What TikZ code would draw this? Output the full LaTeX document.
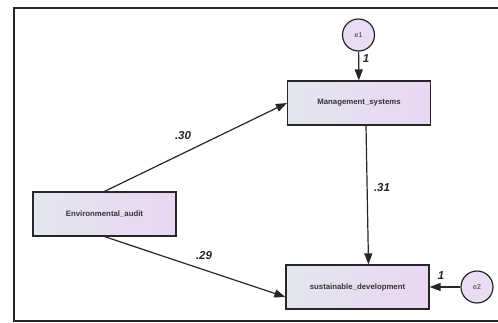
\documentclass[tikz,border=0pt]{standalone}
\usepackage{fontspec}
\setmainfont{Liberation Sans}
\usetikzlibrary{arrows.meta}
\definecolor{boxleft}{HTML}{E2E6EE}
\definecolor{boxright}{HTML}{EBD6F2}
\definecolor{errfill}{HTML}{E8DDF2}
\definecolor{lineclr}{HTML}{262626}
\tikzset{>={Triangle[length=11pt,width=8pt]}}
\tikzset{
  varbox/.style={draw=lineclr, line width=1.2pt, left color=boxleft, right color=boxright,
    minimum width=143pt, minimum height=44pt, inner sep=0pt,
    font=\fontsize{7.8}{9}\selectfont\bfseries, text=black!80},
  errcirc/.style={draw=lineclr, line width=1.2pt, circle, fill=errfill,
    minimum size=32pt, inner sep=0pt, font=\fontsize{7}{8}\selectfont, text=black!80},
  regpath/.style={->, line width=1.2pt, draw=lineclr},
  coef/.style={font=\fontsize{11.5}{12}\selectfont\bfseries\itshape, text=black!85}
}

\begin{document}
\begin{tikzpicture}[x=1pt, y=-1pt]
    \useasboundingbox (0,0) rectangle (498,322);
    \draw [line width=1.3pt, lineclr] (500,8) -- (14,8) -- (14,321) -- (500,321);
    % observed variables
    \node [varbox] (ea) at (104.5,214) {Environmental\_audit};
    \node [varbox] (ms) at (359,103) {Management\_systems};
    \node [varbox] (sd) at (357.5,287) {sustainable\_development};
    % error terms
    \node [errcirc] (e1) at (358.5,35) {e1};
    \node [errcirc] (e2) at (477,287) {e2};
    % paths
    \draw [regpath] (ea.north) -- (ms.west);
    \draw [regpath] (ea.south) -- ([yshift=-10pt]sd.west);
    \draw [regpath] ([xshift=7pt]ms.south) -- ([xshift=11pt]sd.north);
    \draw [regpath] (e1) -- (ms);
    \draw [regpath] (e2) -- (sd);
    % coefficients
    \node [coef] at (183,136) {.30};
    \node [coef] at (204,256) {.29};
    \node [coef] at (382,188) {.31};
    \node [coef] at (366,59) {1};
    \node [coef] at (441,276) {1};
\end{tikzpicture}
\end{document}
